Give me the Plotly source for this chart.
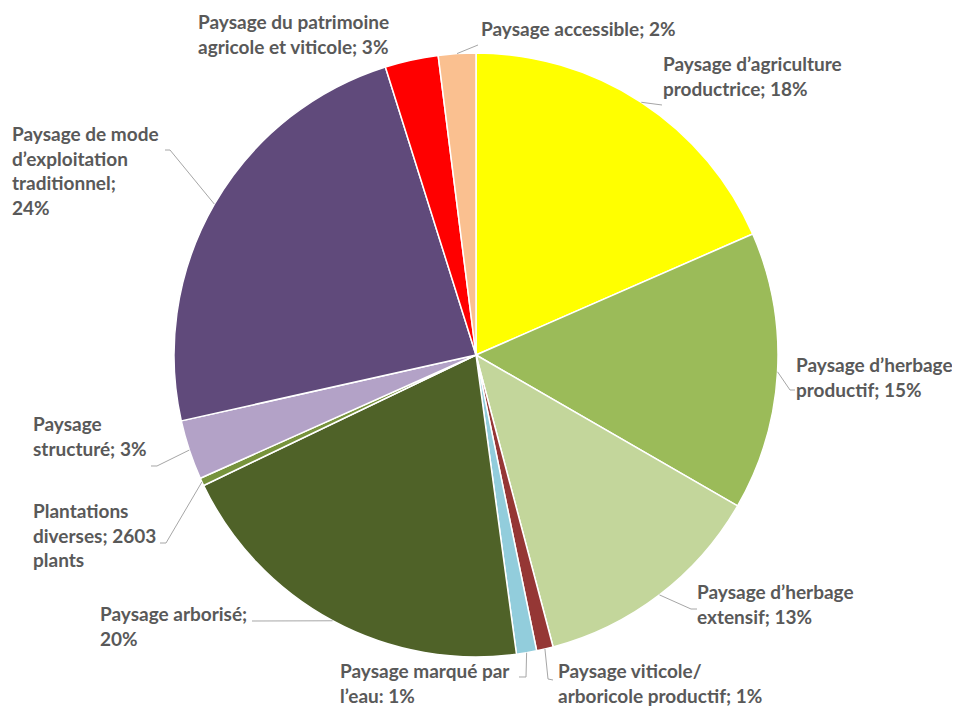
"""
Camembert : répartition des types de paysage.
"""

import math

import plotly.graph_objects as go

W, H = 960, 709
OFF = 8  # marge par défaut du <body> dans la page
FW, FH = W - OFF, H - OFF

# Données (parts, sens horaire depuis midi)
categories = [
    'Paysage d’agriculture productrice',
    'Paysage d’herbage productif',
    'Paysage d’herbage extensif',
    'Paysage viticole/arboricole productif',
    'Paysage marqué par l’eau',
    'Paysage arborisé',
    'Plantations diverses',
    'Paysage structuré',
    'Paysage de mode d’exploitation traditionnel',
    'Paysage du patrimoine agricole et viticole',
    'Paysage accessible',
]
valeurs = [18.44, 14.89, 12.56, 0.89, 1.08, 20.03, 0.42, 3.19, 23.65, 2.85, 2.00]
etiquettes = [
    'Paysage d’agriculture<br>productrice; 18%',
    'Paysage d’herbage<br>productif; 15%',
    'Paysage d’herbage<br>extensif; 13%',
    'Paysage viticole/<br>arboricole productif; 1%',
    'Paysage marqué par<br>l’eau: 1%',
    'Paysage arborisé;<br>20%',
    'Plantations<br>diverses; 2603<br>plants',
    'Paysage<br>structuré; 3%',
    'Paysage de mode<br>d’exploitation<br>traditionnel;<br>24%',
    'Paysage du patrimoine<br>agricole et viticole; 3%',
    'Paysage accessible; 2%',
]
couleurs = [
    '#FFFF00', '#9BBB59', '#C3D69B', '#953735', '#92CDDC', '#4F6228',
    '#77933C', '#B3A2C7', '#604A7B', '#FF0000', '#FAC090',
]

# Position du camembert (pixels de la page)
CX, CY, R = 476, 355, 302

# Placement des étiquettes (coin haut-gauche, pixels de la page)
pos_etiquettes = [
    (661, 50), (794, 351), (695, 578), (556, 657), (338, 657), (98, 600),
    (31, 497), (31, 410), (10, 120), (196, 8), (479, 15),
]
# Lignes de rappel : points côté étiquette (None = pas de ligne)
rappels = [
    [(662, 105)],
    [(790, 390), (795, 390)],
    [(691, 609), (697, 609)],
    [(548, 679), (553, 680)],
    [(526, 677), (519, 677)],
    [(252, 621)],
    [(166, 543), (160, 543)],
    [(157, 466), (151, 466)],
    [(170, 150), (165, 150)],
    None,
    [(478, 45)],
]


def px(x, y):
    """Pixels de la page -> coordonnées 'paper'."""
    return (x - OFF) / FW, 1 - (y - OFF) / FH


def bord_tranche(i):
    """Point sur le bord du camembert au milieu de la tranche i."""
    total = sum(valeurs)
    debut = sum(valeurs[:i])
    ang = 2 * math.pi * (debut + valeurs[i] / 2) / total
    return CX + R * math.sin(ang), CY - R * math.cos(ang)


x0, y_haut = px(CX - R, CY - R)
x1, y_bas = px(CX + R, CY + R)
xc = px(CX, CY)[0]

fig = go.Figure(go.Pie(
    labels=categories,
    values=valeurs,
    sort=False,
    direction='clockwise',
    rotation=0,
    textinfo='none',
    hoverinfo='label+percent',
    marker=dict(colors=couleurs, line=dict(color='white', width=1.5)),
    domain=dict(x=[0, 2 * xc], y=[y_bas, y_haut]),
    showlegend=False,
))

annotations = []
for texte, (x, y) in zip(etiquettes, pos_etiquettes):
    ax, ay = px(x, y)
    annotations.append(dict(
        text=texte, x=ax, y=ay, xref='paper', yref='paper',
        xanchor='left', yanchor='top', align='left', showarrow=False,
        font=dict(family='Lato', size=19, color='#595959', weight='bold'),
    ))

shapes = []
for i, pts in enumerate(rappels):
    if not pts:
        continue
    chemin = [bord_tranche(i)] + pts
    d = 'M ' + ' L '.join(f'{px(x, y)[0]:.5f},{px(x, y)[1]:.5f}' for x, y in chemin)
    shapes.append(dict(type='path', path=d, xref='paper', yref='paper',
                       line=dict(color='#A6A6A6', width=1)))

fig.update_layout(
    width=FW, height=FH,
    margin=dict(l=0, r=0, t=0, b=0),
    paper_bgcolor='white',
    plot_bgcolor='white',
    annotations=annotations,
    shapes=shapes,
)

fig.write_html("out.html")
